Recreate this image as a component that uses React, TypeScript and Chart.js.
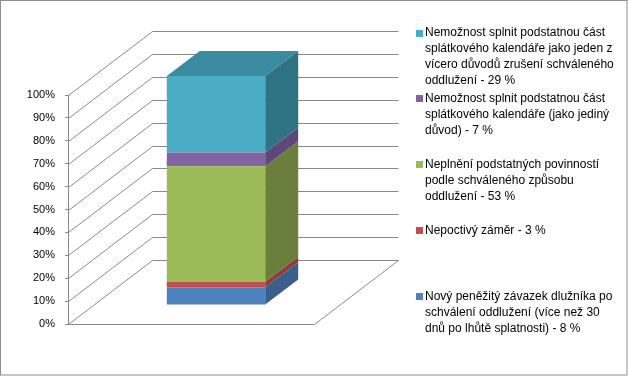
import React, { useEffect, useRef } from "react";
import { Chart, registerables } from "chart.js";

Chart.register(...registerables);

// ---- data ----
const categories = [""];
const seriesLabels: string[][] = [
  ["Nový peněžitý závazek dlužníka po", "schválení oddlužení (více než 30", "dnů po lhůtě splatnosti) - 8 %"],
  ["Nepoctivý záměr - 3 %"],
  ["Neplnění podstatných povinností", "podle schváleného způsobu", "oddlužení - 53 %"],
  ["Nemožnost splnit podstatnou část", "splátkového kalendáře (jako jediný", "důvod) - 7 %"],
  ["Nemožnost splnit podstatnou část", "splátkového kalendáře jako jeden z", "vícero důvodů zrušení schváleného", "oddlužení - 29 %"],
];
const seriesValues: number[][] = [[7.7], [2.4], [50.5], [6.0], [33.4]];
const tickValues = [0, 10, 20, 30, 40, 50, 60, 70, 80, 90, 100];

// ---- styles ----
const frontColors = ["#4F81BD", "#C0504D", "#9BBB59", "#8064A2", "#4BACC6"];
const sideColors = ["#3A5F8C", "#923B38", "#697F3B", "#5D4879", "#2F7283"];
const topColors = ["#3D6798", "#9C413E", "#738A40", "#664E84", "#3A8AA0"];
const GRID = "#8a8a8a";
const WALL_DX = 84;
const WALL_DY = -64;
const FRONT_DX = 25;
const FRONT_DY = -19;
const BAR_DX = 33;
const BAR_DY = -25;
const FONT = "'Liberation Sans', Arial, sans-serif";

const threeD = {
  id: "threeD",
  beforeDraw(chart: any) {
    const ctx = chart.ctx;
    ctx.save();
    ctx.fillStyle = "#ffffff";
    ctx.fillRect(0, 0, chart.width, chart.height);
    ctx.restore();
  },
  beforeDatasetsDraw(chart: any) {
    const ctx = chart.ctx;
    const ys = chart.scales.y;
    const area = chart.chartArea;
    const left = Math.round(area.left) + 0.5;
    const right = Math.round(area.right) + 0.5;
    ctx.save();
    ctx.strokeStyle = GRID;
    ctx.lineWidth = 1;
    ys.ticks.forEach((t: any) => {
      const py = Math.round(ys.getPixelForValue(t.value)) + 0.5;
      ctx.beginPath();
      ctx.moveTo(left, py);
      ctx.lineTo(left + WALL_DX, py + WALL_DY);
      ctx.lineTo(right + WALL_DX, py + WALL_DY);
      ctx.stroke();
    });
    const p0 = Math.round(ys.getPixelForValue(0)) + 0.5;
    ctx.beginPath();
    ctx.moveTo(left, p0);
    ctx.lineTo(right, p0);
    ctx.lineTo(right + WALL_DX, p0 + WALL_DY);
    ctx.stroke();
    ctx.restore();

    // side and top faces of the bars
    ctx.save();
    ctx.translate(FRONT_DX, FRONT_DY);
    const n = chart.data.datasets.length;
    for (let i = 0; i < n; i++) {
      const meta = chart.getDatasetMeta(i);
      meta.data.forEach((bar: any) => {
        const p = bar.getProps(["x", "y", "base", "width"], true);
        const l = p.x - p.width / 2;
        const r = p.x + p.width / 2;
        const top = Math.min(p.y, p.base);
        const bot = Math.max(p.y, p.base);
        ctx.fillStyle = sideColors[i];
        ctx.beginPath();
        ctx.moveTo(r, top);
        ctx.lineTo(r, bot);
        ctx.lineTo(r + BAR_DX, bot + BAR_DY);
        ctx.lineTo(r + BAR_DX, top + BAR_DY);
        ctx.closePath();
        ctx.fill();
        if (i === n - 1) {
          ctx.fillStyle = topColors[i];
          ctx.beginPath();
          ctx.moveTo(l, top);
          ctx.lineTo(r, top);
          ctx.lineTo(r + BAR_DX, top + BAR_DY);
          ctx.lineTo(l + BAR_DX, top + BAR_DY);
          ctx.closePath();
          ctx.fill();
        }
      });
    }
    ctx.restore();
    // shift the front faces onto the bar plane
    ctx.save();
    ctx.translate(FRONT_DX, FRONT_DY);
  },
  afterDatasetsDraw(chart: any) {
    chart.ctx.restore();
  },
  afterDraw(chart: any) {
    const ctx = chart.ctx;
    // legend
    const LEG_X = 416;
    const LEG_TOP = 25;
    const LEG_H = 329;
    const LINE_H = 16;
    const n = chart.data.datasets.length;
    const slot = LEG_H / n;
    ctx.save();
    ctx.font = "12px " + FONT;
    ctx.textBaseline = "middle";
    ctx.textAlign = "left";
    for (let k = 0; k < n; k++) {
      const i = n - 1 - k;
      const ds = chart.data.datasets[i];
      const lines: string[] = ds.legendLines;
      const cy = LEG_TOP + k * slot + LINE_H / 2;
      ctx.fillStyle = ds.backgroundColor;
      ctx.fillRect(LEG_X, Math.round(cy - 3.5), 7, 7);
      ctx.fillStyle = "#000000";
      lines.forEach((ln, j) => {
        ctx.fillText(ln, LEG_X + 9, cy + j * LINE_H);
      });
    }
    // chart border
    ctx.strokeStyle = "#8c8c8c";
    ctx.lineWidth = 1;
    ctx.strokeRect(0.5, 0.5, chart.width - 1.5, chart.height - 1.5);
    ctx.restore();
  },
};

export default function App() {
  const ref = useRef<HTMLCanvasElement>(null);
  useEffect(() => {
    if (!ref.current) return;
    const chart = new Chart(ref.current, {
      type: "bar",
      data: {
        labels: categories,
        datasets: seriesValues.map((vals, i) => ({
          label: seriesLabels[i].join(" "),
          legendLines: seriesLabels[i],
          data: vals,
          backgroundColor: frontColors[i],
          borderWidth: 0,
          barPercentage: 0.4,
          categoryPercentage: 1,
          clip: false,
        })) as any,
      },
      options: {
        animation: false,
        responsive: false,
        devicePixelRatio: 1,
        layout: { padding: { left: 0, right: 314, top: 95, bottom: 52 } },
        plugins: { legend: { display: false }, tooltip: { enabled: false } },
        scales: {
          x: { display: false, stacked: true },
          y: {
            stacked: true,
            min: 0,
            max: 100,
            afterFit(scale: any) {
              scale.width = 68;
            },
            afterBuildTicks(scale: any) {
              scale.ticks = tickValues.map((v) => ({ value: v }));
            },
            ticks: {
              callback: (v: any) => v + "%",
              color: "#000000",
              font: { family: FONT, size: 11 },
              padding: 10,
            },
            grid: {
              drawOnChartArea: false,
              drawTicks: true,
              tickLength: 3,
              color: GRID,
            },
            border: { display: true, color: GRID },
          },
        },
      },
      plugins: [threeD],
    });
    return () => chart.destroy();
  }, []);
  return (
    <div style={{ position: "absolute", left: 0, top: 0, width: 628, height: 376 }}>
      <canvas ref={ref} width={628} height={376} style={{ display: "block" }} />
    </div>
  );
}
